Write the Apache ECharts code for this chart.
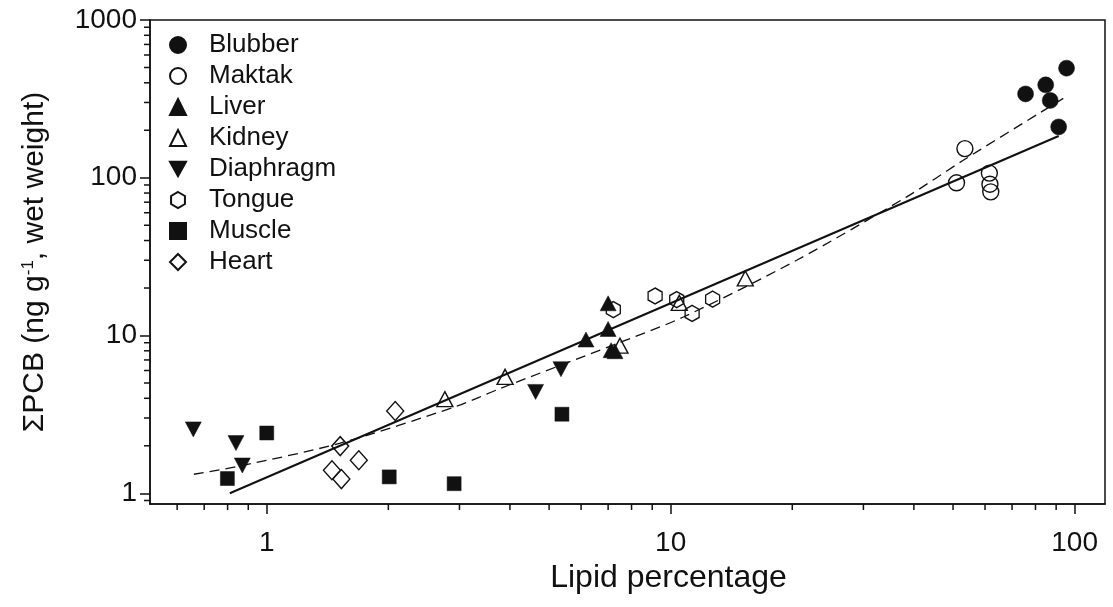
<!DOCTYPE html>
<html>
<head>
<meta charset="utf-8">
<script src="https://cdn.jsdelivr.net/npm/echarts@6/dist/echarts.min.js"></script>
<style>
  html, body { margin: 0; padding: 0; background: #fff; }
  #chart { width: 1113px; height: 607px; }
</style>
</head>
<body>
<div id="chart"></div>
<script>
// lipid percentage (x) vs sum PCB ng/g wet weight (y)
const blubberX = [95.5, 84.8, 75.6, 87.0, 91.3];
const blubberY = [495, 388, 340, 309, 210];
const maktakX = [53.5, 51.0, 61.5, 61.7, 62.0];
const maktakY = [153, 92.9, 107, 91, 81.4];
const liverX = [7.0, 7.0, 6.17, 7.12, 7.28];
const liverY = [16.0, 11.0, 9.43, 8.07, 7.95];
const kidneyX = [2.76, 3.89, 7.49, 10.5, 15.3];
const kidneyY = [3.95, 5.47, 8.62, 16.1, 23.0];
const diaphragmX = [0.658, 0.839, 0.870, 5.35, 4.63];
const diaphragmY = [2.54, 2.08, 1.50, 6.11, 4.39];
const tongueX = [9.15, 7.21, 10.35, 11.3, 12.7];
const tongueY = [17.8, 14.6, 16.9, 13.8, 17.0];
const muscleX = [0.799, 1.0, 2.01, 2.91, 5.38];
const muscleY = [1.24, 2.41, 1.27, 1.15, 3.17];
const heartX = [2.08, 1.52, 1.69, 1.45, 1.53];
const heartY = [3.32, 1.99, 1.62, 1.40, 1.23];

// linear (log-log) regression and dashed curve
const fitX = [0.81, 91.3];
const fitY = [1.0, 184];
const curveX = [0.66, 0.86, 1.52, 2.95, 3.78, 7.2, 10.75, 20.5, 38.4, 53, 94.6];
const curveY = [1.32, 1.49, 2.08, 3.56, 4.61, 8.7, 13.1, 30.0, 75.7, 129, 323];

const xLabels = [1, 10, 100];
const yLabels = [1, 10, 100, 1000];
const xMinor = [0.6, 0.7, 0.8, 0.9, 2, 3, 4, 5, 6, 7, 8, 9, 20, 30, 40, 50, 60, 70, 80, 90];
const yMinor = [0.9, 2, 3, 4, 5, 6, 7, 8, 9, 20, 30, 40, 50, 60, 70, 80, 90,
  200, 300, 400, 500, 600, 700, 800, 900];

const FONT = 'Liberation Sans';
const INK = '#111';

const hexagon = 'path://M0,-1 L0.866,-0.5 L0.866,0.5 L0,1 L-0.866,0.5 L-0.866,-0.5 Z';
const triDown = 'path://M-1,-0.9 L1,-0.9 L0,0.9 Z';

function zip(xs, ys) {
  return xs.map((x, i) => [x, ys[i]]);
}

const groups = [
  { name: 'Blubber', x: blubberX, y: blubberY, symbol: 'circle', size: 16, filled: true },
  { name: 'Maktak', x: maktakX, y: maktakY, symbol: 'circle', size: 16, filled: false },
  { name: 'Liver', x: liverX, y: liverY, symbol: 'triangle', size: [16, 15], filled: true },
  { name: 'Kidney', x: kidneyX, y: kidneyY, symbol: 'triangle', size: [16, 15], filled: false },
  { name: 'Diaphragm', x: diaphragmX, y: diaphragmY, symbol: triDown, size: [16, 15], filled: true },
  { name: 'Tongue', x: tongueX, y: tongueY, symbol: hexagon, size: [14, 16], filled: false },
  { name: 'Muscle', x: muscleX, y: muscleY, symbol: 'rect', size: 14, filled: true },
  { name: 'Heart', x: heartX, y: heartY, symbol: 'diamond', size: [17, 19], filled: false }
];

const chart = echarts.init(document.getElementById('chart'));

let series = [
  {
    name: 'fit',
    type: 'line',
    data: zip(fitX, fitY),
    showSymbol: false,
    symbol: 'none',
    lineStyle: { color: INK, width: 2 },
    z: 1,
    silent: true
  },
  {
    name: 'curve',
    type: 'line',
    data: zip(curveX, curveY),
    smooth: 0.3,
    showSymbol: false,
    symbol: 'none',
    lineStyle: { color: INK, width: 1.3, type: [10, 6] },
    z: 1,
    silent: true
  }
];

groups.forEach(g => {
  series.push({
    name: g.name,
    type: 'scatter',
    data: zip(g.x, g.y),
    symbol: g.symbol,
    symbolSize: g.size,
    itemStyle: g.filled
      ? { color: INK, borderColor: INK, borderWidth: 0.5, opacity: 1 }
      : { color: 'transparent', borderColor: INK, borderWidth: 1.4, opacity: 1 },
    z: 3
  });
});

const option = {
  backgroundColor: '#fff',
  animation: false,
  textStyle: { fontFamily: FONT },
  grid: {
    left: 150, right: 8, top: 20, bottom: 103,
    show: true,
    borderColor: INK,
    borderWidth: 1.5,
    backgroundColor: 'transparent'
  },
  legend: {
    data: groups.map(g => g.name),
    orient: 'vertical',
    left: 169,
    top: 32,
    padding: 0,
    itemWidth: 16,
    itemHeight: 16,
    itemGap: 5,
    textStyle: { fontSize: 26, color: INK, fontFamily: FONT, padding: [0, 0, 0, 18] }
  },
  xAxis: {
    type: 'log',
    logBase: 10,
    min: 0.514,
    max: 118.9,
    name: 'Lipid percentage',
    nameLocation: 'middle',
    nameGap: 56,
    nameTextStyle: { fontSize: 32, color: INK, fontFamily: FONT, padding: [0, 0, 0, 82] },
    axisLine: { lineStyle: { color: INK, width: 1.5 } },
    axisTick: { customValues: xLabels, length: 10, lineStyle: { color: INK, width: 1.5 } },
    axisLabel: { customValues: xLabels, fontSize: 28, color: INK, margin: 25, fontFamily: FONT,
      formatter: v => String(v) },
    splitLine: { show: false }
  },
  yAxis: {
    type: 'log',
    logBase: 10,
    min: 0.855,
    max: 1000,
    name: 'ΣPCB (ng g{sup|-1}, wet weight)',
    nameLocation: 'middle',
    nameGap: 100,
    nameTextStyle: {
      fontSize: 30, color: INK, fontFamily: FONT,
      rich: { sup: { fontSize: 17, verticalAlign: 'top', color: INK, fontFamily: FONT, padding: [0, 0, 12, 0] } }
    },
    axisLine: { lineStyle: { color: INK, width: 1.5 } },
    axisTick: { customValues: yLabels, length: 10, lineStyle: { color: INK, width: 1.5 } },
    axisLabel: { customValues: yLabels, fontSize: 28, color: INK, margin: 13, fontFamily: FONT,
      formatter: v => String(v) },
    splitLine: { show: false }
  },
  series: series
};

chart.setOption(option);

// minor ticks placed through the axes' own scales
const minorTicks = [];
const xAxisY = chart.convertToPixel({ yAxisIndex: 0 }, 0.855);
const yAxisX = chart.convertToPixel({ xAxisIndex: 0 }, 0.514);
xMinor.forEach(v => {
  const px = chart.convertToPixel({ xAxisIndex: 0 }, v);
  minorTicks.push({
    type: 'line', silent: true,
    shape: { x1: px, y1: xAxisY, x2: px, y2: xAxisY + 6 },
    style: { stroke: INK, lineWidth: 1.5 }
  });
});
yMinor.forEach(v => {
  const py = chart.convertToPixel({ yAxisIndex: 0 }, v);
  minorTicks.push({
    type: 'line', silent: true,
    shape: { x1: yAxisX, y1: py, x2: yAxisX - 6, y2: py },
    style: { stroke: INK, lineWidth: 1.5 }
  });
});
chart.setOption({ graphic: minorTicks });
</script>
</body>
</html>
